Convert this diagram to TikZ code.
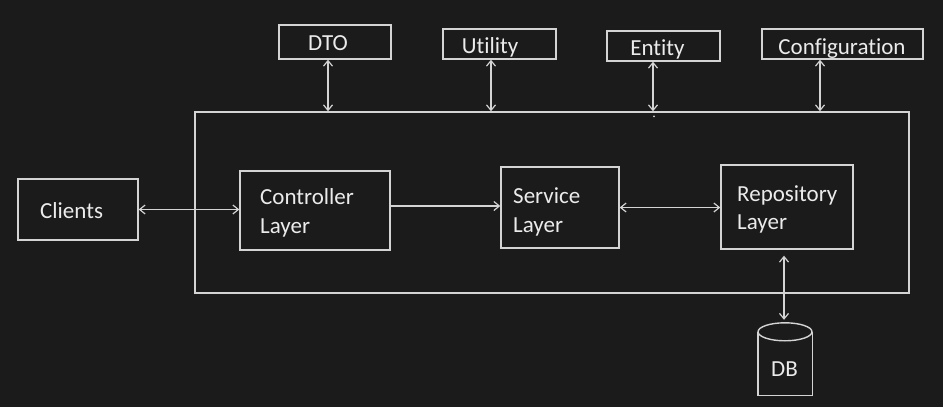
\documentclass[tikz,border=0pt]{standalone}
\usepackage{fontspec}
\setmainfont{Carlito}[Ligatures={NoCommon}]
\usetikzlibrary{arrows.meta}
\definecolor{bg}{HTML}{1B1B1B}
\definecolor{linec}{HTML}{D4D4D4}
\definecolor{textc}{HTML}{EBEBEB}
\begin{document}
\begin{tikzpicture}[x=1pt,y=-1pt,
  box/.style={draw=linec, line width=1.4pt, inner sep=0pt},
  txt/.style={text=textc, font=\fontsize{23}{29}\selectfont, inner sep=0pt, anchor=base west},
  ctxt/.style={txt, anchor=base},
  barb/.tip={Straight Barb[length=5.5pt,width=9pt,line width=1.2pt]},
  conn/.style={draw=linec, line width=1.4pt, barb-barb},
  oneway/.style={draw=linec, line width=1.4pt, -barb},
]
\fill[bg] (0,0) rectangle (943,407);
\useasboundingbox (0,0) rectangle (943,407);

% top boxes
\node[box, minimum width=112pt, minimum height=34pt] (dto) at (335,42) {};
\node[box, minimum width=113pt, minimum height=30pt] (util) at (499.5,44) {};
\node[box, minimum width=113pt, minimum height=30pt] (ent) at (663.5,46) {};
\node[box, minimum width=161pt, minimum height=30pt] (conf) at (842.5,44) {};
\node[ctxt] (dtot) at (328,50) {DTO};
\node[ctxt] (utilt) at (490,53) {Utility};
\node[ctxt] (entt) at (657.5,55) {Entity};
\node[ctxt] (conft) at (842,54) {Configuration};

% big container
\node[box, minimum width=714pt, minimum height=181pt] (big) at (552,202.5) {};

% inner boxes
\node[box, minimum width=120pt, minimum height=61pt] (cli) at (78,209.5) {};
\node[box, minimum width=150pt, minimum height=79pt] (ctl) at (315,210.5) {};
\node[box, minimum width=118pt, minimum height=81pt] (srv) at (560,207.5) {};
\node[box, minimum width=132pt, minimum height=84pt] (rep) at (787,207) {};

\node[txt] (clit) at (40,218) {Clients};
\node[txt] (ctlt1) at (260,204) {Controller};
\node[txt] (ctlt2) at (260,233) {Layer};
\node[txt] (srvt1) at (513,203) {Service};
\node[txt] (srvt2) at (513,232) {Layer};
\node[txt] (rept1) at (737,201) {Repository};
\node[txt] (rept2) at (737,229) {Layer};

% DB cylinder
\node[inner sep=0pt, minimum width=54pt, minimum height=72pt] (db) at (785,359) {};
\draw[linec, line width=1.4pt] (db.north) ++(0,9) ellipse [x radius=27pt, y radius=9pt];
\draw[linec, line width=1.4pt] ([yshift=-9pt]db.north west) -- (db.south west) -- (db.south east) -- ([yshift=-9pt]db.north east);
\node[ctxt] (dbt) at (784.5,376) {DB};

% connectors
\draw[conn] ([xshift=-7pt]dto.south) -- ([xshift=-7pt]dto.south |- big.north);
\draw[conn] ([xshift=-8.5pt]util.south) -- ([xshift=-8.5pt]util.south |- big.north);
\draw[conn] ([xshift=-10.5pt]ent.south) -- ([xshift=-10.5pt]ent.south |- big.north);
\draw[conn] ([xshift=-22.5pt]conf.south) -- ([xshift=-22.5pt]conf.south |- big.north);
\fill[linec] ([xshift=-9.5pt,yshift=-5pt]ent.south |- big.north) circle (1pt);

\draw[conn] (cli.east) -- (cli.east -| ctl.west);
\draw[oneway] ([yshift=4.5pt]ctl.east) -- ([yshift=4.5pt]ctl.east -| srv.west);
\draw[conn] (srv.east) -- (srv.east -| rep.west);
\draw[conn, shorten <=6pt, shorten >=3pt] ([xshift=-3pt]rep.south) -- ([xshift=-3pt]rep.south |- db.north);
\end{tikzpicture}
\end{document}
